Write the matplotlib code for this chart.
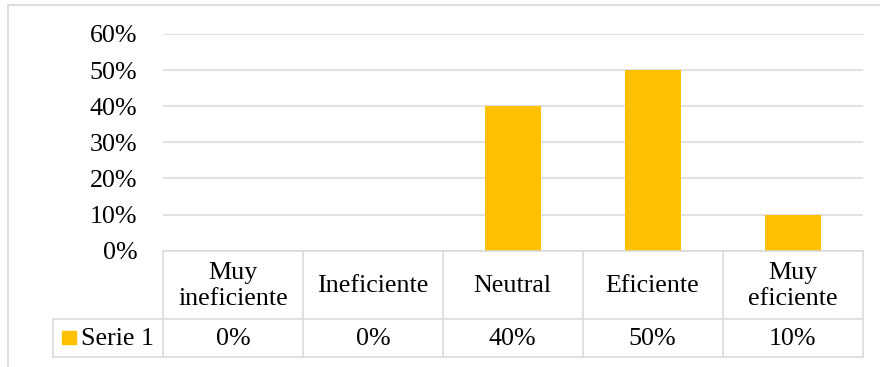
import matplotlib
matplotlib.use("Agg")
import matplotlib.pyplot as plt
from matplotlib import transforms
from matplotlib.lines import Line2D
from matplotlib.patches import Rectangle
from matplotlib.ticker import FuncFormatter, MultipleLocator

# Data
categories = ["Muy\nineficiente", "Ineficiente", "Neutral", "Eficiente", "Muy\neficiente"]
values = [0.0, 0.0, 0.40, 0.50, 0.10]
series_name = "Serie 1"
value_labels = ["0%", "0%", "40%", "50%", "10%"]

W, H = 880, 367
DPI = 100
BAR_COLOR = "#FFC000"
GRID_COLOR = "#D9D9D9"
FONT = "Liberation Serif"
FS = 18.7

plt.rcParams["font.family"] = [FONT, "DejaVu Serif"]

fig = plt.figure(figsize=(W / DPI, H / DPI), dpi=DPI)


def fy(py):
    """Pixel row (from top) to figure fraction."""
    return 1 - py / H


def fx(px):
    return px / W


# Plot area
x0, x1 = 163, 862.5
y_top, y_zero = 34, 250.7
ax = fig.add_axes([fx(x0), fy(y_zero), fx(x1) - fx(x0), fy(y_top) - fy(y_zero)])

xs = list(range(len(categories)))
ax.bar(xs, values, width=0.4, color=BAR_COLOR, zorder=3)
ax.set_xlim(-0.5, len(categories) - 0.5)
ax.set_ylim(0, 0.6)
ax.yaxis.set_major_locator(MultipleLocator(0.1))
ax.yaxis.set_major_formatter(FuncFormatter(lambda v, _: f"{v * 100:.0f}%"))
ax.grid(axis="y", color=GRID_COLOR, linewidth=1.1, zorder=0)
ax.tick_params(axis="y", length=0, pad=18.5, labelsize=FS)
ax.tick_params(axis="x", bottom=False, labelbottom=False)
for s in ax.spines.values():
    s.set_visible(False)

# Data table beneath the plot area
blend = transforms.blended_transform_factory(ax.transData, fig.transFigure)
row_top, row_mid, row_bot = 251, 319, 357
legend_left = 53

line_kw = dict(color=GRID_COLOR, linewidth=1.1, clip_on=False)

# horizontal rules
fig.add_artist(Line2D([-0.5, len(categories) - 0.5], [fy(row_top)] * 2, transform=blend, **line_kw))
for ry in (row_mid, row_bot):
    fig.add_artist(Line2D([fx(legend_left), fx(x1)], [fy(ry)] * 2, transform=fig.transFigure, **line_kw))
# vertical rules
for b in [i - 0.5 for i in range(len(categories) + 1)]:
    fig.add_artist(Line2D([b, b], [fy(row_top), fy(row_bot)], transform=blend, **line_kw))
fig.add_artist(Line2D([fx(legend_left)] * 2, [fy(row_mid), fy(row_bot)], transform=fig.transFigure, **line_kw))

# category headers and values
hdr_y = fy((row_top + row_mid) / 2 + 1)
val_y = fy((row_mid + row_bot) / 2 + 1)
for i, (cat, lab) in enumerate(zip(categories, value_labels)):
    fig.text(i, hdr_y, cat, transform=blend, ha="center", va="center",
             fontsize=FS, linespacing=1.2)
    fig.text(i, val_y, lab, transform=blend, ha="center", va="center", fontsize=FS)

# legend key and series name
fig.add_artist(Rectangle((fx(62), fy(344)), fx(76) - fx(62), fy(331) - fy(344),
                         transform=fig.transFigure, color=BAR_COLOR))
fig.text(fx(81), val_y, series_name, ha="left", va="center", fontsize=FS)

# outer chart border
border_kw = dict(color=GRID_COLOR, linewidth=1.3, transform=fig.transFigure)
fig.add_artist(Line2D([fx(7.5), 1.0], [fy(4.5)] * 2, **border_kw))
fig.add_artist(Line2D([fx(7.5)] * 2, [fy(4.5), 0.0], **border_kw))

fig.savefig("out.png", dpi=DPI)
